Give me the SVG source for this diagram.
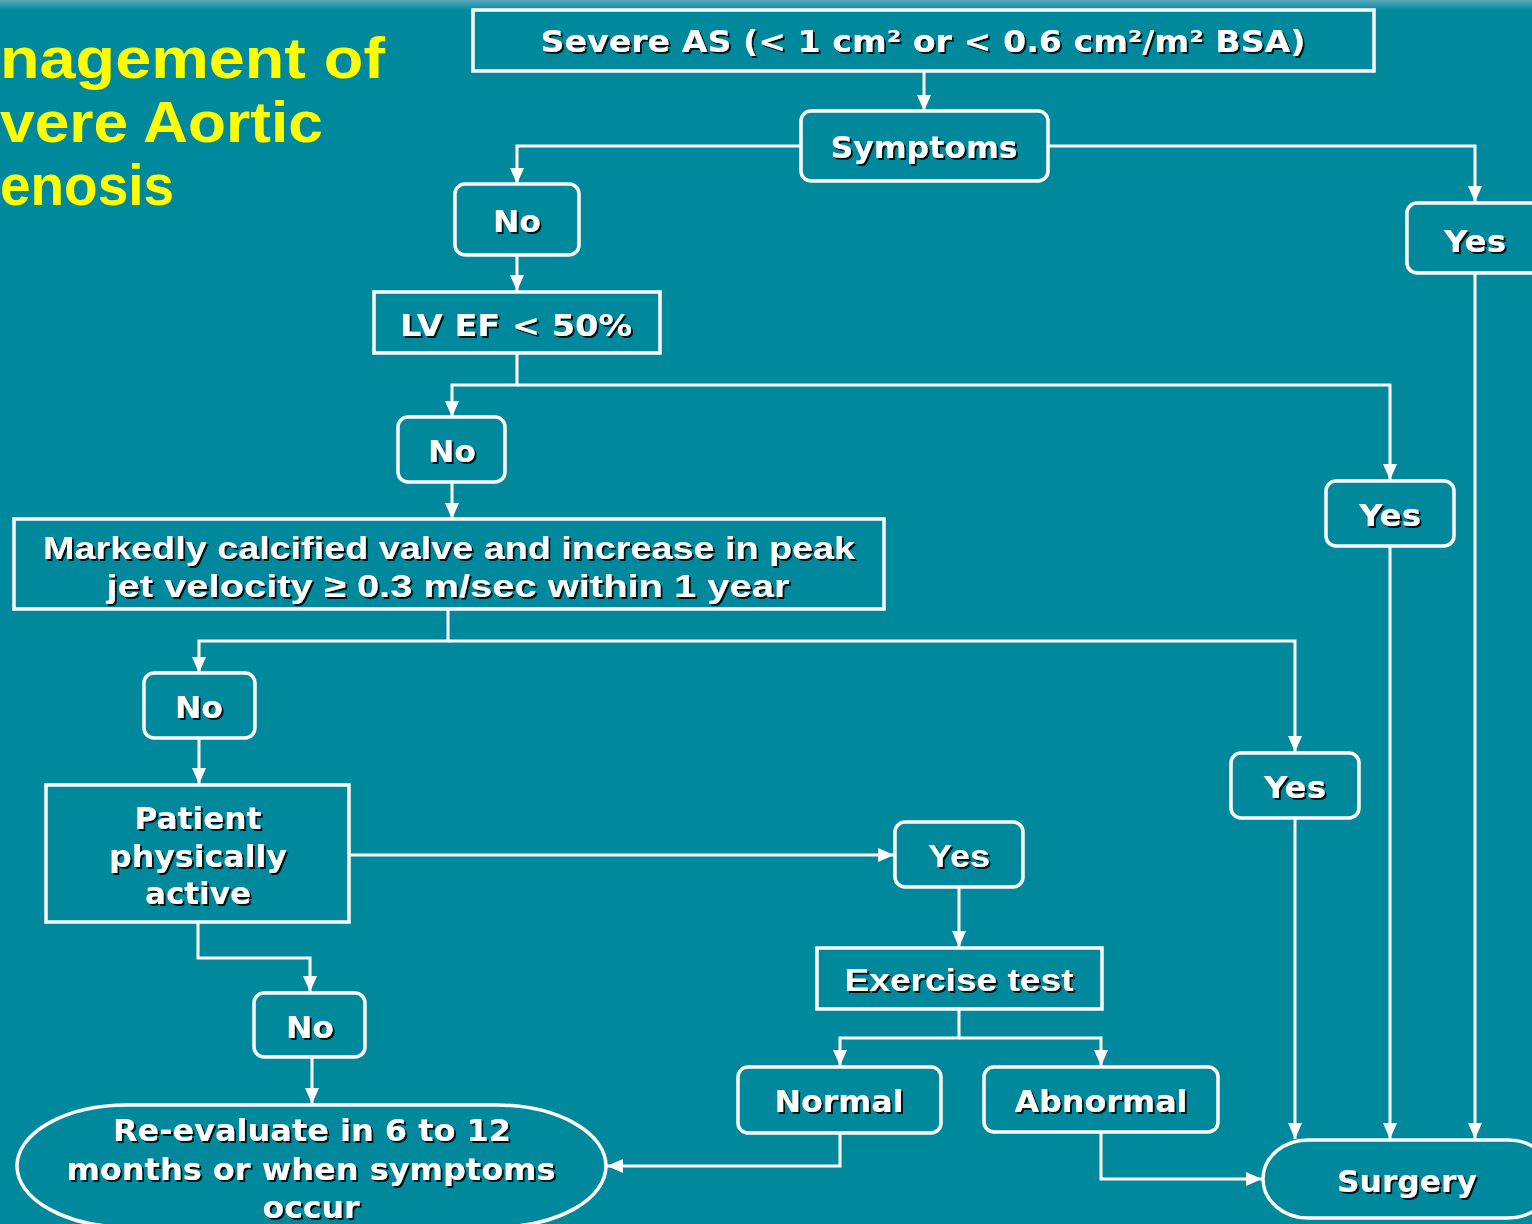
<svg xmlns="http://www.w3.org/2000/svg" width="1532" height="1224" viewBox="0 0 1532 1224">
  <defs>
    <linearGradient id="topband" x1="0" y1="0" x2="0" y2="1">
      <stop offset="0" stop-color="#5aaabb"/>
      <stop offset="1" stop-color="#00889c"/>
    </linearGradient>
    <marker id="arrow" viewBox="0 0 16 16" refX="16" refY="8" markerWidth="16" markerHeight="16" markerUnits="userSpaceOnUse" orient="auto">
      <path d="M0,1 L16,8 L0,15 z" fill="#ffffff"/>
    </marker>
    <filter id="shadow" x="-5%" y="-20%" width="110%" height="140%">
      <feDropShadow dx="2" dy="2" stdDeviation="0.4" flood-color="#000000" flood-opacity="0.85"/>
    </filter>
  </defs>
  <style>
    .box { fill: none; stroke: #ffffff; stroke-width: 3.5; }
    .wire { fill: none; stroke: #ffffff; stroke-width: 3; }
    .lbl { font-family: "DejaVu Sans", "Liberation Sans", sans-serif; font-weight: bold; font-size: 30px; fill: #ffffff; text-anchor: middle; filter: url(#shadow); }
    .narrow { font-family: "Liberation Sans", "DejaVu Sans", sans-serif; font-weight: bold; font-size: 32px; fill: #ffffff; text-anchor: middle; filter: url(#shadow); }
    .title { font-family: "Liberation Sans", Arial, sans-serif; font-weight: bold; font-size: 58px; fill: #ffff00; }
  </style>

  <!-- background -->
  <rect x="0" y="0" width="1532" height="1224" fill="#00889c"/>
  <rect x="0" y="0" width="1532" height="10" fill="url(#topband)"/>

  <!-- slide title -->
  <g id="title">
    <text class="title" x="0" y="78" textLength="385" lengthAdjust="spacingAndGlyphs">nagement of</text>
    <text class="title" x="0" y="142" textLength="323" lengthAdjust="spacingAndGlyphs">vere Aortic</text>
    <text class="title" x="0" y="205" textLength="174" lengthAdjust="spacingAndGlyphs">enosis</text>
  </g>

  <!-- connectors -->
  <g id="connectors">
    <path class="wire" d="M924,71 V111" marker-end="url(#arrow)"/>
    <path class="wire" d="M801,146 H517 V184" marker-end="url(#arrow)"/>
    <path class="wire" d="M1048,146 H1475 V202" marker-end="url(#arrow)"/>
    <path class="wire" d="M517,255 V291" marker-end="url(#arrow)"/>
    <path class="wire" d="M517,353 V385 H452 V417" marker-end="url(#arrow)"/>
    <path class="wire" d="M517,385 H1390 V480" marker-end="url(#arrow)"/>
    <path class="wire" d="M452,482 V519" marker-end="url(#arrow)"/>
    <path class="wire" d="M448,609 V641 H199 V673" marker-end="url(#arrow)"/>
    <path class="wire" d="M448,641 H1295 V752" marker-end="url(#arrow)"/>
    <path class="wire" d="M199,738 V784" marker-end="url(#arrow)"/>
    <path class="wire" d="M349,855 H894" marker-end="url(#arrow)"/>
    <path class="wire" d="M198,922 V958 H310 V992" marker-end="url(#arrow)"/>
    <path class="wire" d="M312,1057 V1104" marker-end="url(#arrow)"/>
    <path class="wire" d="M959,887 V947" marker-end="url(#arrow)"/>
    <path class="wire" d="M959,1009 V1038 H840 V1066" marker-end="url(#arrow)"/>
    <path class="wire" d="M959,1038 H1101 V1066" marker-end="url(#arrow)"/>
    <path class="wire" d="M840,1133 V1166 H607" marker-end="url(#arrow)"/>
    <path class="wire" d="M1101,1132 V1179 H1262" marker-end="url(#arrow)"/>
    <path class="wire" d="M1475,273 V1139" marker-end="url(#arrow)"/>
    <path class="wire" d="M1390,546 V1139" marker-end="url(#arrow)"/>
    <path class="wire" d="M1295,818 V1139" marker-end="url(#arrow)"/>
  </g>

  <!-- nodes -->
  <g id="severe-as">
    <rect class="box" x="473" y="10" width="901" height="61"/>
    <text class="lbl" x="923" y="52" textLength="765" lengthAdjust="spacingAndGlyphs">Severe AS (&lt; 1 cm² or &lt; 0.6 cm²/m² BSA)</text>
  </g>
  <g id="symptoms">
    <rect class="box" x="801" y="111" width="247" height="70" rx="10"/>
    <text class="lbl" x="924" y="158" textLength="187" lengthAdjust="spacingAndGlyphs">Symptoms</text>
  </g>
  <g id="no-symptoms">
    <rect class="box" x="455" y="184" width="124" height="71" rx="10"/>
    <text class="lbl" x="517" y="232" textLength="48" lengthAdjust="spacingAndGlyphs">No</text>
  </g>
  <g id="yes-symptoms">
    <rect class="box" x="1407" y="203" width="136" height="70" rx="10"/>
    <text class="lbl" x="1475" y="252" textLength="62" lengthAdjust="spacingAndGlyphs">Yes</text>
  </g>
  <g id="lvef">
    <rect class="box" x="374" y="292" width="286" height="61"/>
    <text class="lbl" x="516" y="336" textLength="232" lengthAdjust="spacingAndGlyphs">LV EF &lt; 50%</text>
  </g>
  <g id="no-lvef">
    <rect class="box" x="398" y="417" width="107" height="65" rx="10"/>
    <text class="lbl" x="452" y="462" textLength="48" lengthAdjust="spacingAndGlyphs">No</text>
  </g>
  <g id="yes-lvef">
    <rect class="box" x="1326" y="481" width="128" height="65" rx="10"/>
    <text class="lbl" x="1390" y="526" textLength="62" lengthAdjust="spacingAndGlyphs">Yes</text>
  </g>
  <g id="calcified">
    <rect class="box" x="14" y="519" width="870" height="90"/>
    <text class="narrow" x="449" y="559" textLength="812" lengthAdjust="spacingAndGlyphs">Markedly calcified valve and increase in peak</text>
    <text class="narrow" x="448" y="597" textLength="683" lengthAdjust="spacingAndGlyphs">jet velocity  ≥ 0.3 m/sec within 1 year</text>
  </g>
  <g id="no-calcified">
    <rect class="box" x="144" y="673" width="111" height="65" rx="10"/>
    <text class="lbl" x="199" y="718" textLength="48" lengthAdjust="spacingAndGlyphs">No</text>
  </g>
  <g id="yes-calcified">
    <rect class="box" x="1231" y="753" width="128" height="65" rx="10"/>
    <text class="lbl" x="1295" y="798" textLength="62" lengthAdjust="spacingAndGlyphs">Yes</text>
  </g>
  <g id="active">
    <rect class="box" x="46" y="785" width="303" height="137"/>
    <text class="lbl" x="198" y="829" textLength="127" lengthAdjust="spacingAndGlyphs">Patient</text>
    <text class="lbl" x="198" y="867" textLength="178" lengthAdjust="spacingAndGlyphs">physically</text>
    <text class="lbl" x="198" y="904" textLength="106" lengthAdjust="spacingAndGlyphs">active</text>
  </g>
  <g id="yes-active">
    <rect class="box" x="895" y="822" width="128" height="65" rx="10"/>
    <text class="narrow" x="959" y="867" textLength="62" lengthAdjust="spacingAndGlyphs">Yes</text>
  </g>
  <g id="no-active">
    <rect class="box" x="254" y="993" width="111" height="64" rx="10"/>
    <text class="lbl" x="310" y="1038" textLength="48" lengthAdjust="spacingAndGlyphs">No</text>
  </g>
  <g id="exercise">
    <rect class="box" x="817" y="948" width="285" height="61"/>
    <text class="narrow" x="959" y="991" textLength="229" lengthAdjust="spacingAndGlyphs">Exercise test</text>
  </g>
  <g id="normal">
    <rect class="box" x="738" y="1067" width="203" height="66" rx="10"/>
    <text class="lbl" x="839" y="1112" textLength="129" lengthAdjust="spacingAndGlyphs">Normal</text>
  </g>
  <g id="abnormal">
    <rect class="box" x="984" y="1067" width="234" height="65" rx="10"/>
    <text class="lbl" x="1101" y="1112" textLength="173" lengthAdjust="spacingAndGlyphs">Abnormal</text>
  </g>
  <g id="reevaluate">
    <rect class="box" x="17" y="1105" width="589" height="122" rx="110" ry="61"/>
    <text class="lbl" x="312" y="1141" textLength="398" lengthAdjust="spacingAndGlyphs">Re-evaluate in 6 to 12</text>
    <text class="lbl" x="311" y="1180" textLength="489" lengthAdjust="spacingAndGlyphs">months or when symptoms</text>
    <text class="lbl" x="311" y="1218" textLength="97" lengthAdjust="spacingAndGlyphs">occur</text>
  </g>
  <g id="surgery">
    <rect class="box" x="1263" y="1140" width="290" height="78" rx="45" ry="39"/>
    <text class="lbl" x="1407" y="1192" textLength="140" lengthAdjust="spacingAndGlyphs">Surgery</text>
  </g>
</svg>
